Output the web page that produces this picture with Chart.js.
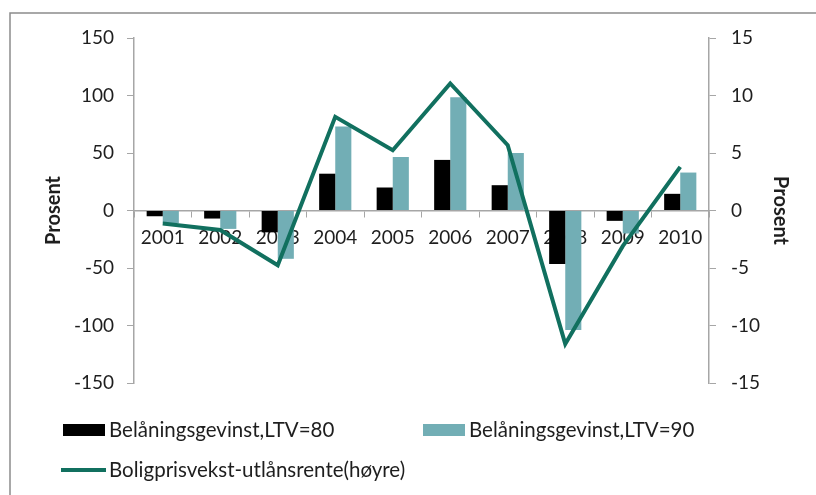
<!DOCTYPE html>
<html>
<head>
<meta charset="utf-8">
<script src="https://cdn.jsdelivr.net/npm/chart.js@4.4.1/dist/chart.umd.min.js"></script>
<style>
  html, body { margin: 0; padding: 0; background: #fff; }
  #wrap { width: 816px; height: 495px; }
</style>
</head>
<body>
<div id="wrap"><canvas id="chart" width="816" height="495"></canvas></div>
<script>
// years on the x axis
const years = ['2001', '2002', '2003', '2004', '2005', '2006', '2007', '2008', '2009', '2010'];

// left axis (bars)
const gainLtv80 = [-5, -7, -19, 32, 20, 44, 22, -46.5, -9, 14.5];
const gainLtv90 = [-11, -16, -42, 73, 46.5, 98.5, 50, -104, -20, 33];

// right axis (line)
const priceMinusRate = [-1.13, -1.7, -4.76, 8.14, 5.24, 11.05, 5.68, -11.6, -3.1, 3.79];

const leftTicks = [-150, -100, -50, 0, 50, 100, 150];
const rightTicks = [-15, -10, -5, 0, 5, 10, 15];

const seriesNames = ['Belåningsgevinst,LTV=80', 'Belåningsgevinst,LTV=90', 'Boligprisvekst-utlånsrente(høyre)'];

const axisGray = '#a6a6a6';
const textColor = '#1e1e1e';
const fontFamily = 'Lato, "Open Sans", sans-serif';

// frame round the chart, like the original figure
const framePlugin = {
  id: 'frame',
  beforeDraw(chart) {
    const ctx = chart.ctx;
    ctx.save();
    ctx.strokeStyle = '#8c8c8c';
    ctx.lineWidth = 1.5;
    ctx.beginPath();
    ctx.moveTo(816, 13);
    ctx.lineTo(10, 13);
    ctx.lineTo(10, 495);
    ctx.stroke();
    ctx.restore();
  }
};

// legend laid out in two rows, as in the reference
const legendPlugin = {
  id: 'twoRowLegend',
  afterDraw(chart) {
    const ctx = chart.ctx;
    const ds = chart.data.datasets;
    ctx.save();
    ctx.font = '20.5px ' + fontFamily;
    ctx.textBaseline = 'middle';

    const items = [
      { x: 63, y: 430, d: ds[0] },
      { x: 423, y: 430, d: ds[1] },
      { x: 63, y: 470, d: ds[2] }
    ];
    items.forEach(it => {
      if (it.d.type === 'line') {
        ctx.strokeStyle = it.d.borderColor;
        ctx.lineWidth = 4;
        ctx.beginPath();
        ctx.moveTo(it.x - 2, it.y);
        ctx.lineTo(it.x + 43, it.y);
        ctx.stroke();
      } else {
        ctx.fillStyle = it.d.backgroundColor;
        ctx.fillRect(it.x, it.y - 6, 42, 12);
      }
      ctx.fillStyle = textColor;
      ctx.fillText(it.d.label, it.x + 46, it.y);
    });
    ctx.restore();
  }
};

const ctx = document.getElementById('chart').getContext('2d');
const chart = new Chart(ctx, {
  data: {
    labels: years,
    datasets: [
      {
        type: 'bar',
        label: seriesNames[0],
        data: gainLtv80,
        yAxisID: 'y',
        backgroundColor: '#000000',
        categoryPercentage: 0.56,
        barPercentage: 1.0,
        order: 1
      },
      {
        type: 'bar',
        label: seriesNames[1],
        data: gainLtv90,
        yAxisID: 'y',
        backgroundColor: '#72aeb5',
        categoryPercentage: 0.56,
        barPercentage: 1.0,
        order: 1
      },
      {
        type: 'line',
        label: seriesNames[2],
        data: priceMinusRate,
        yAxisID: 'y1',
        borderColor: '#11705f',
        backgroundColor: '#11705f',
        borderWidth: 4,
        pointRadius: 0,
        tension: 0,
        order: 0
      }
    ]
  },
  options: {
    responsive: false,
    animation: false,
    devicePixelRatio: 1,
    layout: { padding: { left: 38, right: 20, top: 38, bottom: 112 } },
    plugins: {
      legend: { display: false },
      tooltip: { enabled: false }
    },
    scales: {
      x: {
        type: 'category',
        position: { y: 0 },
        offset: true,
        grid: {
          display: true,
          drawOnChartArea: false,
          drawTicks: true,
          tickLength: 6,
          color: axisGray,
          offset: true
        },
        border: { display: true, color: axisGray, width: 1.5 },
        ticks: {
          color: textColor,
          font: { family: fontFamily, size: 19 },
          padding: 10,
          maxRotation: 0,
          autoSkip: false
        }
      },
      y: {
        position: 'left',
        min: -150,
        max: 150,
        afterBuildTicks(scale) {
          scale.ticks = leftTicks.map(v => ({ value: v }));
        },
        afterFit(scale) { scale.width = 96; },
        grid: {
          drawOnChartArea: false,
          drawTicks: true,
          tickLength: 7,
          color: axisGray
        },
        border: { display: true, color: axisGray, width: 1.5 },
        ticks: {
          color: textColor,
          font: { family: fontFamily, size: 19 },
          padding: 13
        },
        title: {
          display: true,
          text: 'Prosent',
          color: textColor,
          font: { family: fontFamily, size: 20, weight: 'bold' }
        }
      },
      y1: {
        position: 'right',
        min: -15,
        max: 15,
        afterBuildTicks(scale) {
          scale.ticks = rightTicks.map(v => ({ value: v }));
        },
        afterFit(scale) { scale.width = 87; },
        grid: {
          drawOnChartArea: false,
          drawTicks: true,
          tickLength: 7,
          color: axisGray
        },
        border: { display: true, color: axisGray, width: 1.5 },
        ticks: {
          color: textColor,
          font: { family: fontFamily, size: 19 },
          padding: 15
        },
        title: {
          display: true,
          text: 'Prosent',
          color: textColor,
          font: { family: fontFamily, size: 20, weight: 'bold' }
        }
      }
    }
  },
  plugins: [framePlugin, legendPlugin]
});
</script>
</body>
</html>
